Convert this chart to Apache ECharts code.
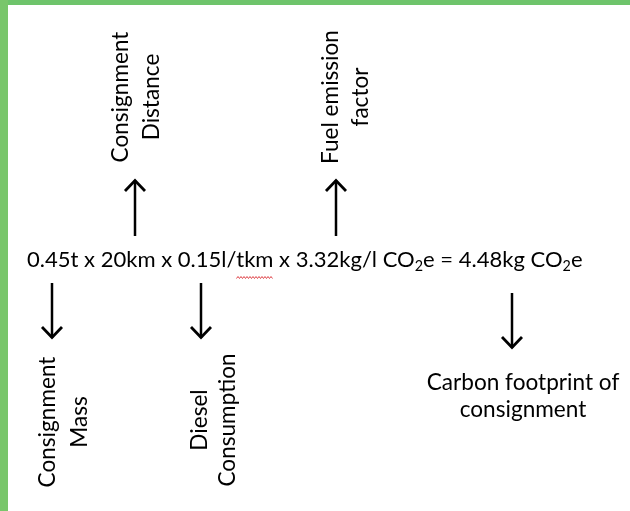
<!DOCTYPE html>
<html>
<head>
<meta charset="utf-8">
<script src="https://cdn.jsdelivr.net/npm/echarts@6/dist/echarts.min.js"></script>
<style>
  html, body { margin: 0; padding: 0; background: #fff; }
  #chart { width: 630px; height: 511px; }
</style>
</head>
<body>
<div id="chart"></div>
<script>
// terms of the equation
const massTerm = '0.45t'
const distanceTerm = '20km'
const consumptionTerm = '0.15l/tkm'
const factorTerm = '3.32kg/l'
const resultTerm = '4.48kg'
const gasName = 'CO'
const gasSub = '2'
const gasTail = 'e'

// labels (two lines each)
const upperLabels = [['Consignment', 'Distance'], ['Fuel emission', 'factor']]
const lowerLabels = [['Consignment', 'Mass'], ['Diesel', 'Consumption']]
const resultLabel = ['Carbon footprint of', 'consignment']

const FONT = 'Lato'
const INK = '#000'
const SUB_RATIO = 0.65

// measure text to fit Calibri-like widths
const mctx = document.createElement('canvas').getContext('2d')
const measure = (str, size) => {
  mctx.font = size + 'px ' + FONT
  return mctx.measureText(str).width
}

const pieces = [
  { t: `${massTerm} x ${distanceTerm} x ${consumptionTerm} x ${factorTerm} ${gasName}`, sub: false },
  { t: gasSub, sub: true },
  { t: `${gasTail} = ${resultTerm} ${gasName}`, sub: false },
  { t: gasSub, sub: true },
  { t: gasTail, sub: false }
]
const unitW = pieces.reduce((s, p) => s + measure(p.t, p.sub ? 100 * SUB_RATIO : 100), 0) / 100
const eqSize = 556 / unitW
const labelSize = 131 / (measure('Consignment', 100) / 100)

const elements = []

// green frame
elements.push({ type: 'rect', shape: { x: 0, y: 0, width: 630, height: 5 }, style: { fill: '#6ec46b' } })
elements.push({ type: 'rect', shape: { x: 0, y: 0, width: 8, height: 511 }, style: { fill: '#79c66b' } })

// equation
let cx = 27
pieces.forEach(p => {
  const size = p.sub ? eqSize * SUB_RATIO : eqSize
  elements.push({
    type: 'text',
    x: cx,
    y: p.sub ? 266 : 260,
    style: {
      text: p.t,
      fontSize: size,
      fontFamily: FONT,
      fill: INK,
      align: 'left',
      verticalAlign: 'middle'
    }
  })
  cx += measure(p.t, size)
})

// spell-check squiggle under "tkm"
const prefix = `${massTerm} x ${distanceTerm} x ${consumptionTerm.split('/')[0]}/`
const sq0 = 27 + measure(prefix, eqSize)
const sq1 = sq0 + measure('tkm', eqSize)
const squiggle = []
for (let x = sq0, i = 0; x <= sq1; x += 1.5, i++) {
  squiggle.push([x, i % 2 ? 276.5 : 278.5])
}
elements.push({ type: 'polyline', shape: { points: squiggle }, style: { stroke: '#e0464b', lineWidth: 1, fill: 'none' } })

// arrows: tail y0, tip y1
const arrow = (x, y0, y1) => {
  const dir = y1 > y0 ? -1 : 1
  elements.push({ type: 'line', shape: { x1: x, y1: y0, x2: x, y2: y1 }, style: { stroke: INK, lineWidth: 2.5 } })
  elements.push({
    type: 'polyline',
    shape: { points: [[x - 10, y1 + dir * 11], [x, y1 + 0.5 * dir], [x + 10, y1 + dir * 11]] },
    style: { stroke: INK, lineWidth: 2.8, fill: 'none', lineJoin: 'miter' }
  })
}
arrow(135, 236, 180)
arrow(336, 236, 180)
arrow(52, 283, 338)
arrow(201, 283, 338)
arrow(512, 293, 348)

// rotated label
const vText = (str, x, y) => {
  elements.push({
    type: 'text',
    x: x,
    y: y,
    rotation: Math.PI / 2,
    style: {
      x: 0,
      y: 0,
      text: str,
      fontSize: labelSize,
      fontFamily: FONT,
      fill: INK,
      align: 'center',
      verticalAlign: 'middle'
    }
  })
}
vText(upperLabels[0][0], 121, 97)
vText(upperLabels[0][1], 152, 97)
vText(upperLabels[1][0], 331, 97)
vText(upperLabels[1][1], 361, 97)
vText(lowerLabels[0][0], 48, 422)
vText(lowerLabels[0][1], 80, 422)
vText(lowerLabels[1][0], 200, 420)
vText(lowerLabels[1][1], 228, 420)

// result label
resultLabel.forEach((str, i) => {
  elements.push({
    type: 'text',
    x: 523,
    y: 383 + i * 27,
    style: {
      text: str,
      fontSize: labelSize,
      fontFamily: FONT,
      fill: INK,
      align: 'center',
      verticalAlign: 'middle'
    }
  })
})

const chart = echarts.init(document.getElementById('chart'), null, { renderer: 'canvas' })
chart.setOption({
  animation: false,
  backgroundColor: '#fff',
  graphic: { elements: elements }
})
</script>
</body>
</html>
